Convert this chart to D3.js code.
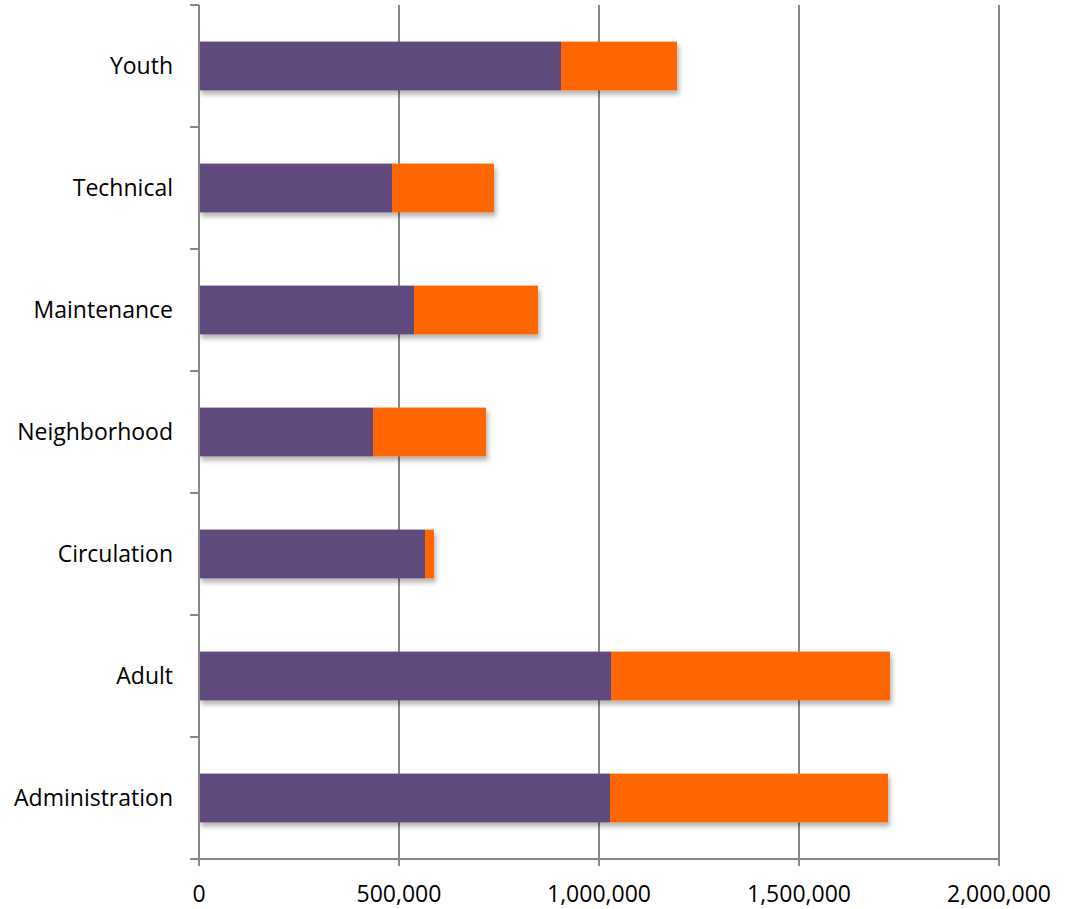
<!DOCTYPE html>
<html>
<head>
<meta charset="utf-8">
<script src="https://cdn.jsdelivr.net/npm/d3@7"></script>
<style>
  body { margin: 0; background: #fff; }
  svg { display: block; }
</style>
</head>
<body>
<svg id="chart" width="1075" height="909"></svg>
<script>
// categories, top to bottom
const categories = ["Youth", "Technical", "Maintenance", "Neighborhood", "Circulation", "Adult", "Administration"];
// first series (purple)
const seriesA = [905000, 482500, 537500, 435000, 565000, 1030000, 1027500];
// second series (orange)
const seriesB = [290000, 255000, 310000, 282500, 22500, 697500, 695000];
const xTicks = [0, 500000, 1000000, 1500000, 2000000];

const colours = ["#604a7b", "#ff6600"];

const margin = { left: 199, top: 5, right: 76, bottom: 50 };
const width = 800, height = 854;

const svg = d3.select("#chart");

// drop shadow under the bars
const defs = svg.append("defs");
defs.append("filter")
  .attr("id", "shadow")
  .attr("x", "-5%").attr("y", "-20%")
  .attr("width", "115%").attr("height", "160%")
  .append("feDropShadow")
  .attr("dx", 2).attr("dy", 4)
  .attr("stdDeviation", 2.5)
  .attr("flood-color", "#000")
  .attr("flood-opacity", 0.3);

const g = svg.append("g").attr("transform", `translate(${margin.left},${margin.top})`);

const x = d3.scaleLinear().domain([0, 2000000]).range([0, width]);
const y = d3.scaleBand().domain(categories).range([0, height]).paddingInner(0.6).paddingOuter(0.3);

const fmt = d3.format(",");

// gridlines (extend below axis as ticks)
g.selectAll(".grid")
  .data(xTicks.slice(1))
  .join("line")
  .attr("class", "grid")
  .attr("x1", d => x(d)).attr("x2", d => x(d))
  .attr("y1", 0).attr("y2", height + 7)
  .attr("stroke", "#888")
  .attr("stroke-width", 2);

// stacked bars
const stacked = categories.map((c, i) => ({ c, a: seriesA[i], b: seriesB[i] }));

const bars = g.selectAll(".bar")
  .data(stacked)
  .join("g")
  .attr("class", "bar")
  .attr("filter", "url(#shadow)");

bars.append("rect")
  .attr("x", x(0))
  .attr("y", d => y(d.c))
  .attr("width", d => x(d.a) - x(0))
  .attr("height", y.bandwidth())
  .attr("fill", colours[0]);

bars.append("rect")
  .attr("x", d => x(d.a))
  .attr("y", d => y(d.c))
  .attr("width", d => x(d.a + d.b) - x(d.a))
  .attr("height", y.bandwidth())
  .attr("fill", colours[1]);

// y axis line with tick marks at band boundaries
g.append("line")
  .attr("x1", 0).attr("x2", 0)
  .attr("y1", 0).attr("y2", height + 7)
  .attr("stroke", "#888").attr("stroke-width", 2);

const bounds = d3.range(categories.length + 1).map(i => i * height / categories.length);
g.selectAll(".ytick")
  .data(bounds)
  .join("line")
  .attr("class", "ytick")
  .attr("x1", -9).attr("x2", 0)
  .attr("y1", d => d).attr("y2", d => d)
  .attr("stroke", "#888").attr("stroke-width", 2);

// x axis line
g.append("line")
  .attr("x1", -9).attr("x2", width + 1)
  .attr("y1", height).attr("y2", height)
  .attr("stroke", "#888").attr("stroke-width", 2);

// x tick labels
g.selectAll(".xlabel")
  .data(xTicks)
  .join("text")
  .attr("class", "xlabel")
  .attr("x", d => x(d))
  .attr("y", height + 43)
  .attr("text-anchor", "middle")
  .style("font-family", "'Open Sans', sans-serif")
  .style("font-size", "23px")
  .style("fill", "#000")
  .text(d => fmt(d));

// category labels
g.selectAll(".ylabel")
  .data(categories)
  .join("text")
  .attr("class", "ylabel")
  .attr("x", -26)
  .attr("y", d => y(d) + y.bandwidth() / 2)
  .attr("dy", "0.35em")
  .attr("text-anchor", "end")
  .style("font-family", "'Open Sans', sans-serif")
  .style("font-size", "23px")
  .style("fill", "#000")
  .text(d => d);
</script>
</body>
</html>
